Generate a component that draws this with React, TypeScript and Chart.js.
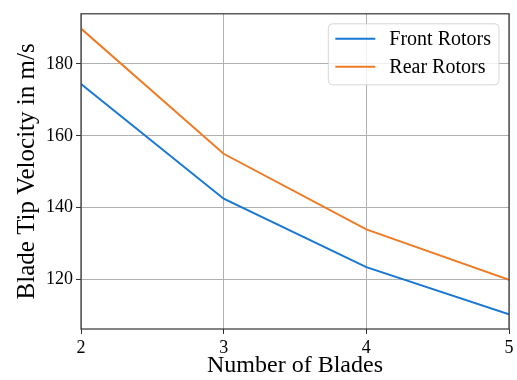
import React, { useEffect, useRef } from "react";
import { Chart, registerables } from "chart.js";

Chart.register(...registerables);

const blades = [2, 3, 4, 5];
const frontRotors = [174.4, 142.5, 123.5, 110.4];
const rearRotors = [189.8, 155.0, 134.0, 120.0];
const yTicks = [120, 140, 160, 180];
const xTicks = [2, 3, 4, 5];

const FONT = "'Liberation Serif', 'DejaVu Serif', serif";

const frameAndLegend = {
  id: "frameAndLegend",
  afterDatasetsDraw(chart: any) {
    const { ctx, chartArea } = chart;
    ctx.save();
    ctx.strokeStyle = "#333333";
    ctx.lineWidth = 1.2;
    ctx.strokeRect(chartArea.left, chartArea.top, chartArea.right - chartArea.left, chartArea.bottom - chartArea.top);
    // legend
    ctx.font = `20px ${FONT}`;
    const ds = chart.data.datasets;
    let maxW = 0;
    ds.forEach((d: any) => { maxW = Math.max(maxW, ctx.measureText(d.label).width); });
    const rowH = 28;
    const boxW = 7 + 40 + 14 + maxW + 8;
    const boxH = ds.length * rowH + 5;
    const bx = chartArea.right - 10 - boxW;
    const by = chartArea.top + 10;
    ctx.globalAlpha = 0.8;
    ctx.fillStyle = "#ffffff";
    ctx.strokeStyle = "#cccccc";
    ctx.lineWidth = 1;
    ctx.beginPath();
    (ctx as any).roundRect(bx, by, boxW, boxH, 4);
    ctx.fill();
    ctx.stroke();
    ctx.globalAlpha = 1;
    ds.forEach((d: any, i: number) => {
      const cy = by + 15 + i * rowH;
      ctx.strokeStyle = d.borderColor;
      ctx.lineWidth = 2;
      ctx.beginPath();
      ctx.moveTo(bx + 7, cy);
      ctx.lineTo(bx + 47, cy);
      ctx.stroke();
      ctx.fillStyle = "#000000";
      ctx.textBaseline = "middle";
      ctx.textAlign = "left";
      ctx.fillText(d.label, bx + 61, cy + 1);
    });
    ctx.restore();
  },
};

export default function App() {
  const ref = useRef<HTMLCanvasElement>(null);
  useEffect(() => {
    const prev = document.body.style.margin;
    document.body.style.margin = "0";
    const chart = new Chart(ref.current!, {
      type: "line",
      data: {
        datasets: [
          {
            label: "Front Rotors",
            data: blades.map((b, i) => ({ x: b, y: frontRotors[i] })),
            borderColor: "#1877d2",
            borderWidth: 2,
            pointRadius: 0,
            tension: 0,
          },
          {
            label: "Rear Rotors",
            data: blades.map((b, i) => ({ x: b, y: rearRotors[i] })),
            borderColor: "#ef7b25",
            borderWidth: 2,
            pointRadius: 0,
            tension: 0,
          },
        ],
      },
      options: {
        animation: false,
        responsive: false,
        layout: { padding: { top: 10, right: 8, left: 0, bottom: 0 } },
        plugins: { legend: { display: false }, tooltip: { enabled: false } },
        scales: {
          x: {
            type: "linear",
            min: 2,
            max: 5,
            afterBuildTicks: (s: any) => { s.ticks = xTicks.map((v) => ({ value: v })); },
            afterFit: (s: any) => { s.height = 51; },
            ticks: { color: "#000", font: { family: FONT, size: 18 }, padding: 3, maxRotation: 0 },
            grid: { color: "#b0b0b0", lineWidth: 1, tickColor: "#333", tickLength: 5 },
            border: { display: false },
            title: { display: true, text: "Number of Blades", color: "#000", font: { family: FONT, size: 24 }, padding: { top: 4, bottom: 0 } },
          },
          y: {
            type: "linear",
            min: 106.3,
            max: 193.9,
            afterBuildTicks: (s: any) => { s.ticks = yTicks.map((v) => ({ value: v })); },
            afterFit: (s: any) => { s.width = 81; },
            ticks: { color: "#000", font: { family: FONT, size: 18 }, padding: 3 },
            grid: { color: "#b0b0b0", lineWidth: 1, tickColor: "#333", tickLength: 5 },
            border: { display: false },
            title: { display: true, text: "Blade Tip Velocity in m/s", color: "#000", font: { family: FONT, size: 25 }, padding: { top: 12, bottom: 0 } },
          },
        },
      },
      plugins: [frameAndLegend],
    });
    return () => { chart.destroy(); document.body.style.margin = prev; };
  }, []);
  return (
    <div style={{ position: "fixed", left: 0, top: 0, width: 517, height: 380, background: "#fff" }}>
      <canvas ref={ref} width={517} height={380} style={{ width: 517, height: 380 }} />
    </div>
  );
}
